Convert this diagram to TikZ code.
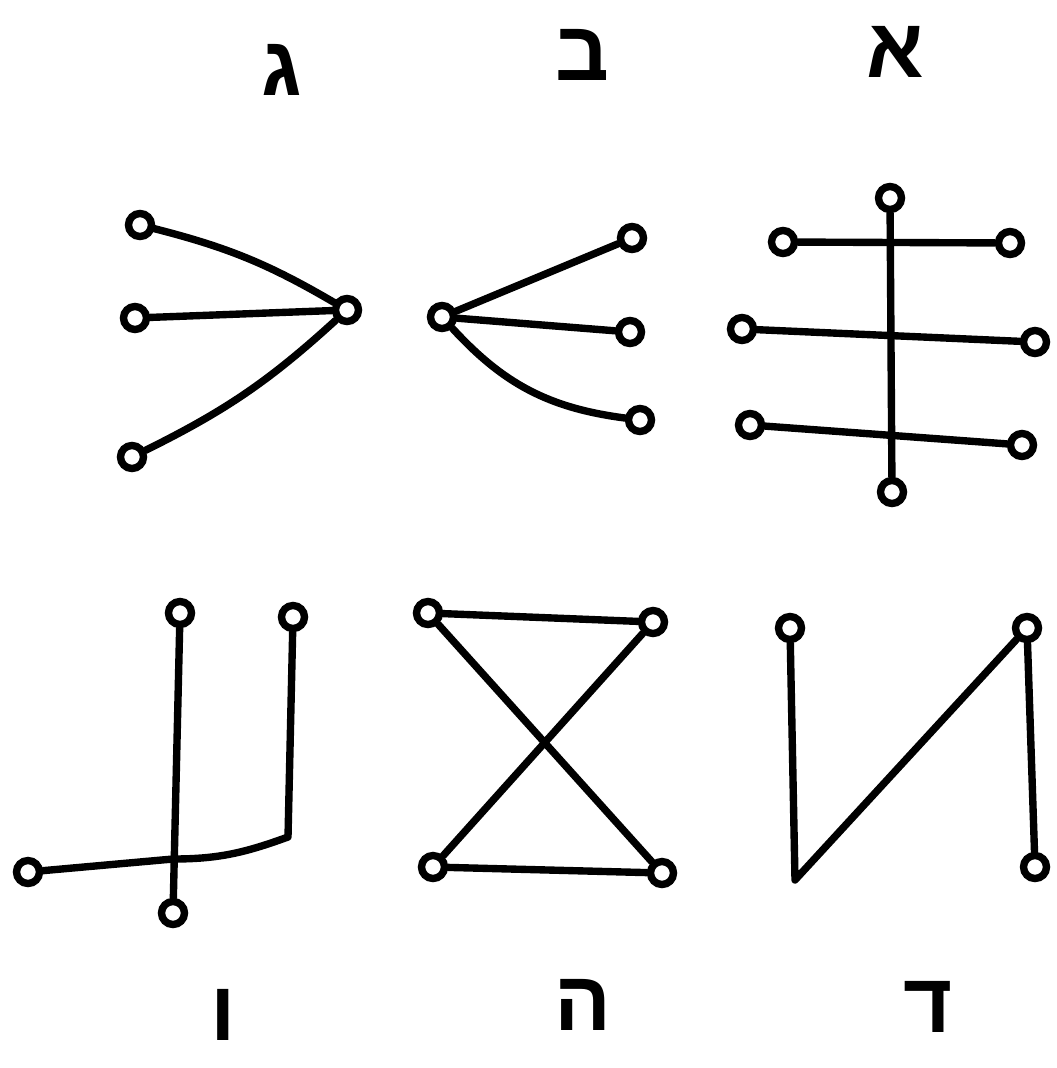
\documentclass[tikz,border=0pt]{standalone}
\usepackage{fontspec}
\newfontfamily\hebfont[Script=Hebrew]{Liberation Sans}
\TeXXeTstate=1
\usetikzlibrary{positioning}

\begin{document}
\begin{tikzpicture}[
  x=0.02cm, y=-0.02cm,
  vtx/.style={circle, draw, line width=4.2pt, minimum size=0.46cm, inner sep=0pt},
  edge/.style={line width=4.2pt, line cap=round, line join=round},
  letter/.style={font=\hebfont\bfseries\fontsize{48}{48}\selectfont, inner sep=0pt}
]
\useasboundingbox (0,0) rectangle (1057,1068);

\node[letter] (gimel) at (282,70) {\beginR ג\endR};
\node[letter] (bet) at (582,55) {\beginR ב\endR};
\node[letter] (alef) at (895,52) {\beginR א\endR};
\node[letter] (vav) at (223,1015) {\beginR ו\endR};
\node[letter] (he) at (583,1005) {\beginR ה\endR};
\node[letter] (dalet) at (928,1007) {\beginR ד\endR};

\node[vtx] (ga) at (140,225) {};
\node[vtx] (gb) at (135,318) {};
\node[vtx] (gc) at (132,457) {};
\node[vtx] (gm) at (347,310) {};
\draw[edge] (ga) to[bend left=8] (gm);
\draw[edge] (gb) -- (gm);
\draw[edge] (gc) to[bend right=8] (gm);

\node[vtx] (bm) at (442,317) {};
\node[vtx] (ba) at (632,238) {};
\node[vtx] (bb) at (630,332) {};
\node[vtx] (bc) at (640,420) {};
\draw[edge] (bm) -- (ba);
\draw[edge] (bm) -- (bb);
\draw[edge] (bm) to[bend right=20] (bc);

\node[vtx] (at) at (890,198) {};
\node[vtx] (ab) at (892,492) {};
\node[vtx] (al1) at (783,242) {};
\node[vtx] (ar1) at (1010,243) {};
\node[vtx] (al2) at (742,329) {};
\node[vtx] (ar2) at (1035,342) {};
\node[vtx] (al3) at (750,425) {};
\node[vtx] (ar3) at (1022,445) {};
\draw[edge] (at) -- (ab);
\draw[edge] (al1) -- (ar1);
\draw[edge] (al2) -- (ar2);
\draw[edge] (al3) -- (ar3);

\node[vtx] (vt1) at (180,613) {};
\node[vtx] (vt2) at (293,617) {};
\node[vtx] (vl) at (28,872) {};
\node[vtx] (vb) at (173,913) {};
\coordinate (vhook) at (288,837);
\coordinate (vcross) at (173,859);
\draw[edge] (vt1) -- (vb);
\draw[edge] (vt2) -- (vhook) to[out=-160, in=0] (vcross) -- (vl);

\node[vtx] (ha) at (428,613) {};
\node[vtx] (hb) at (653,622) {};
\node[vtx] (hc) at (433,867) {};
\node[vtx] (hd) at (662,873) {};
\draw[edge] (ha) -- (hb);
\draw[edge] (hc) -- (hd);
\draw[edge] (ha) -- (hd);
\draw[edge] (hb) -- (hc);

\node[vtx] (da) at (790,628) {};
\node[vtx] (db) at (1027,628) {};
\node[vtx] (dc) at (1035,867) {};
\coordinate (dcorner) at (795,880);
\draw[edge] (da) -- (dcorner) -- (db);
\draw[edge] (db) -- (dc);
\end{tikzpicture}
\end{document}
